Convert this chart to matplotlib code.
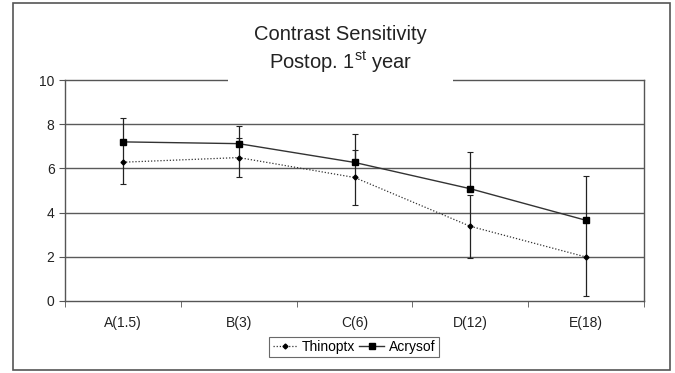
import numpy as np
import matplotlib
matplotlib.use("Agg")
import matplotlib.pyplot as plt
from matplotlib.patches import Rectangle

plt.rcParams['font.family'] = ['Liberation Sans', 'DejaVu Sans']
plt.rcParams['mathtext.fontset'] = 'custom'
plt.rcParams['mathtext.rm'] = 'Liberation Sans'

# data
categories = ["A(1.5)", "B(3)", "C(6)", "D(12)", "E(18)"]
thinoptx = [6.28, 6.49, 5.59, 3.38, 1.99]
thinoptx_err = [0.97, 0.89, 1.23, 1.43, 1.78]
acrysof = [7.20, 7.12, 6.27, 5.08, 3.65]
acrysof_err = [1.07, 0.79, 1.29, 1.64, 2.02]

fig = plt.figure(figsize=(6.75, 3.73), dpi=100)
ax = fig.add_axes([65/675, 72/373, 579/675, 221/373])

x = np.arange(len(categories))

# gridlines
for g in [2, 4, 6, 8]:
  ax.axhline(g, color="#5a5a5a", lw=1.0, zorder=1)

# Thinoptx: error bars both ways
ax.errorbar(x, thinoptx, yerr=thinoptx_err, fmt="none", ecolor="#222222",
            elinewidth=0.9, capsize=2.5, capthick=0.8, zorder=3)
# Acrysof: plus only
ax.errorbar(x, acrysof, yerr=[np.zeros(len(x)), acrysof_err], fmt="none",
            ecolor="#222222", elinewidth=0.9, capsize=2.5, capthick=0.8, zorder=3)

ax.plot(x, thinoptx, ls=(0, (1, 1.5)), color="#333333", lw=0.9, marker="D",
        ms=2.5, mfc="black", mec="black", label="Thinoptx", zorder=4)
ax.plot(x, acrysof, ls="-", color="#333333", lw=1.0, marker="s",
        ms=5, mfc="black", mec="black", label="Acrysof", zorder=5)

ax.set_xlim(-0.5, len(categories) - 0.5)
ax.set_ylim(0, 10)
ax.set_yticks([0, 2, 4, 6, 8, 10])
ax.set_xticks(x)
ax.set_xticklabels(categories)
ax.set_xticks(np.arange(-0.5, len(categories), 1), minor=True)
ax.tick_params(axis="x", which="major", length=0, pad=11, labelsize=10, colors="#222222")
ax.tick_params(axis="x", which="minor", length=4, direction="out", color="#555555")
ax.tick_params(axis="y", length=4, direction="out", labelsize=10, colors="#222222", color="#555555")

for s in ax.spines.values():
  s.set_color("#555555")
  s.set_linewidth(1.0)

# title sits over the top line
fig.add_artist(Rectangle((228/675, (373-90)/373), 225/675, 20/373,
                         transform=fig.transFigure, facecolor="white",
                         edgecolor="none", zorder=10))
fig.text(340/675, 1 - 35/373, "Contrast Sensitivity", ha="center", va="center",
         fontsize=14.5, color="#222222", zorder=11)
fig.text(341/675, 1 - 62/373, r"Postop. 1$^{\mathrm{st}}$ year", ha="center", va="center",
         fontsize=14.5, color="#222222", zorder=11)

leg = fig.legend(loc="center", bbox_to_anchor=(354/675, 1 - 347/373), ncol=2,
                 fontsize=10, frameon=True, fancybox=False, edgecolor="#444444",
                 handlelength=1.8, handletextpad=0.3, columnspacing=0.3,
                 borderpad=0.25, borderaxespad=0)
leg.get_frame().set_linewidth(0.8)

# outer border
fig.add_artist(Rectangle((13/675, 3/373), 657/675, 367/373, transform=fig.transFigure,
                         facecolor="none", edgecolor="#555555", lw=1.2))

fig.savefig("out.png", dpi=100)
